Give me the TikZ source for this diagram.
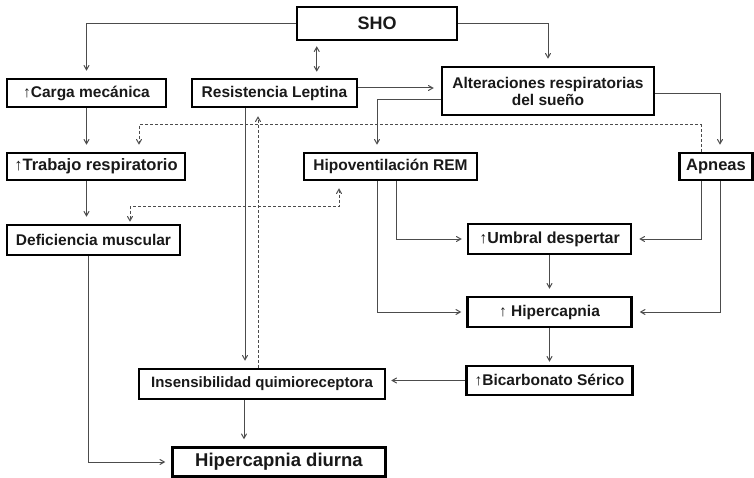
\documentclass[tikz,border=0pt]{standalone}
\usepackage{fontspec}
\setmainfont{Liberation Sans}
\usepackage{tikz}
\usetikzlibrary{shapes,arrows}
\tikzstyle{block} = [draw, rectangle, line width=2.5pt, fill=white, minimum height=28pt, inner sep=2pt, text=black!90, font=\bfseries\fontsize{15.5}{17}\selectfont]
\tikzstyle{conn} = [draw, ->, color=black!70, line width=1pt, shorten >=7pt]
\tikzstyle{dconn} = [conn, densely dashed]

\begin{document}
\begin{tikzpicture}[x=1pt, y=-1pt, node distance=73pt, >=angle 60]
  \useasboundingbox (0,0) rectangle (754,478);
  % boxes
  \node [block, minimum width=160pt, minimum height=33pt, font=\bfseries\fontsize{18}{20}\selectfont] (sho) at (377,23.5) {SHO};
  \node [block, minimum width=159pt] (carga) at (86.5,93) {↑Carga mecánica};
  \node [block, right of=carga, node distance=188pt, minimum width=165pt] (resist) {Resistencia Leptina};
  \node [block, minimum width=212pt, minimum height=48pt, align=center] (alter) at (548,91) {Alteraciones respiratorias\\del sueño};
  \node [block, minimum width=178pt, minimum height=27pt, font=\bfseries\fontsize{16.5}{18}\selectfont] (trabajo) at (96,166.5) {↑Trabajo respiratorio};
  \node [block, right of=trabajo, node distance=294.5pt, minimum width=173pt, minimum height=27pt] (hipov) {Hipoventilación REM};
  \node [block, right of=hipov, node distance=325.5pt, minimum width=73pt, minimum height=27pt, font=\bfseries\fontsize{16.5}{18}\selectfont] (apneas) {Apneas};
  \node [block, minimum width=173pt, minimum height=30pt] (defic) at (93.5,240) {Deficiencia muscular};
  \node [block, minimum width=163pt, minimum height=30pt, font=\bfseries\fontsize{16}{18}\selectfont] (umbral) at (549.5,239) {↑Umbral despertar};
  \node [block, below of=umbral, minimum width=164pt, minimum height=30pt] (hiperc) {↑ Hipercapnia};
  \node [block, below of=hiperc, node distance=68.5pt, minimum width=166pt, minimum height=29pt] (bicarb) {↑Bicarbonato Sérico};
  \node [block, minimum width=246pt, minimum height=30pt, font=\bfseries\fontsize{15}{17}\selectfont] (insens) at (262,384) {Insensibilidad quimioreceptora};
  \node [block, minimum width=213pt, minimum height=29pt, font=\bfseries\fontsize{18.5}{20}\selectfont] (diurna) at (279,462) {Hipercapnia diurna};

  % connectors
  \draw [conn] (sho.west) -| (carga.north);
  \draw [conn, <->, shorten <=5pt, shorten >=6pt] ([xshift=21pt]sho.south west) -- ([xshift=21pt]sho.south west |- resist.north);
  \draw [conn] (sho.east) -| (alter.north);
  \draw [conn] ([yshift=5pt]resist.east) -- ([yshift=5pt]resist.east -| alter.west);
  \draw [conn] ([yshift=-9pt]alter.west) -| ([xshift=-13.5pt]hipov.north);
  \draw [conn] ([yshift=-3pt]alter.east) -| ([xshift=4pt]apneas.north);
  \draw [dconn] ([xshift=-15pt]apneas.north) -- ++(0,-27) -| ([xshift=43pt]trabajo.north);
  \draw [conn] (carga.south) -- (carga.south |- trabajo.north);
  \draw [conn] (carga.south |- trabajo.south) -- (carga.south |- defic.north);
  \draw [dconn, <->, shorten <=7pt, shorten >=2pt] ([xshift=-51.5pt]hipov.south) -- ++(0,25) -| ([xshift=36.5pt]defic.north);
  \draw [conn] ([xshift=-29.5pt]resist.south) -- ([xshift=-29.5pt]resist.south |- insens.north);
  \draw [dconn, shorten >=8pt] ([xshift=-4pt]insens.north) -- ([xshift=-4pt]insens.north |- resist.south);
  \draw [conn, shorten >=5pt] ([xshift=-13.5pt]hipov.south) |- (hiperc.west);
  \draw [conn, shorten >=5pt] ([xshift=5.5pt]hipov.south) |- (umbral.west);
  \draw [conn] ([xshift=-15pt]apneas.south) |- (umbral.east);
  \draw [conn] ([xshift=4pt]apneas.south) |- (hiperc.east);
  \draw [conn] (umbral) -- (hiperc);
  \draw [conn, shorten >=3pt] (hiperc) -- (bicarb);
  \draw [conn, shorten >=5pt] (bicarb.west) -- (bicarb.west -| insens.east);
  \draw [conn] ([xshift=-18pt]insens.south) -- ([xshift=-18pt]insens.south |- diurna.north);
  \draw [conn, shorten >=6pt] ([xshift=-5.5pt]defic.south) |- (diurna.west);
\end{tikzpicture}
\end{document}
